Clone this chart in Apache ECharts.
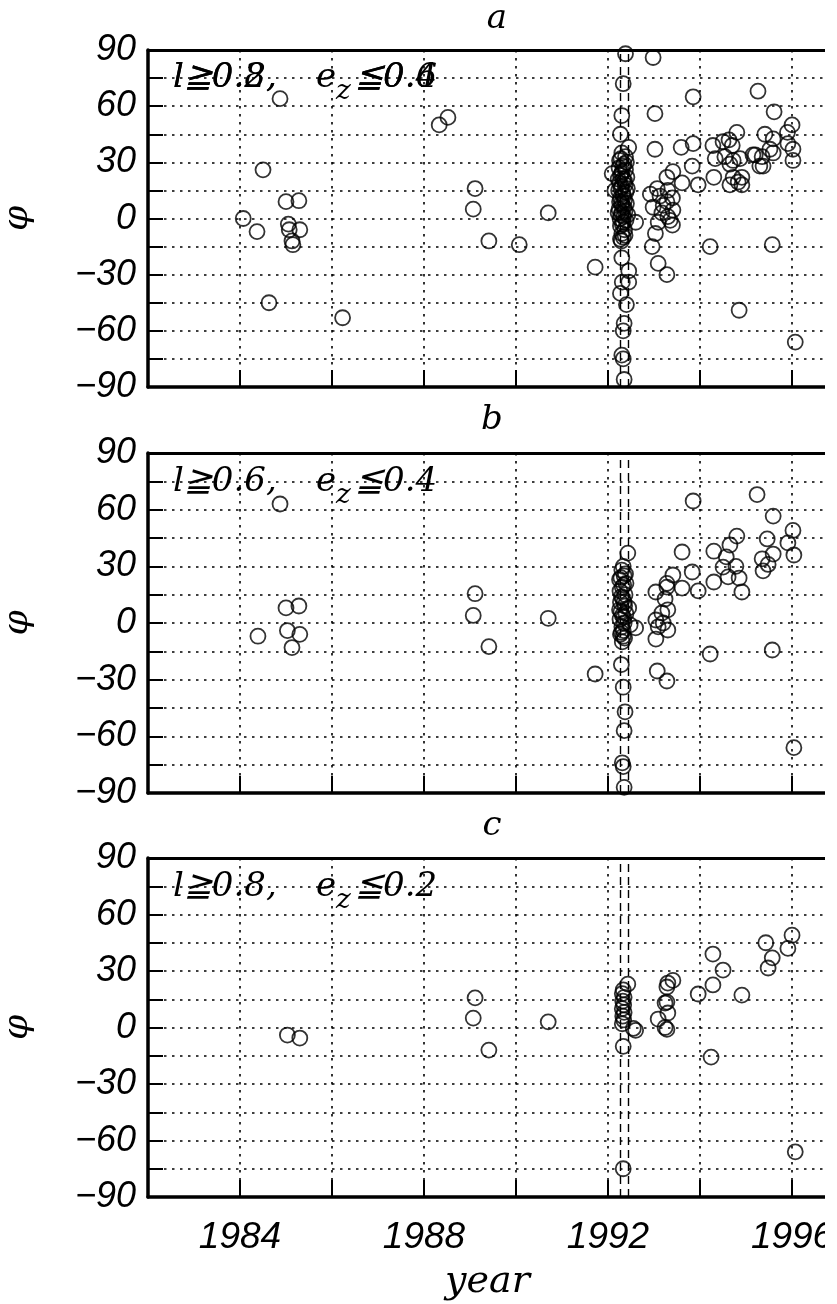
<!DOCTYPE html>
<html lang="en">
<head>
<meta charset="UTF-8">
<title>phi vs year</title>
<script src="https://cdn.jsdelivr.net/npm/echarts@6/dist/echarts.min.js"></script>
<style>
  * { margin: 0; padding: 0; }
  body { background: #fff; }
  #chart { width: 837px; height: 1304px; }
</style>
</head>
<body>
<div id="chart"></div>
<script>
// ---- data ----
var yearLabels = [1984, 1988, 1992, 1996];
var phiLabels = [90, 60, 30, 0, -30, -60, -90];
var dashedYears = [1992.26, 1992.44];
var panelNames = ['a', 'b', 'c'];

var panelA = [
  [1984.07, 0], [1984.37, -7], [1984.5, 26], [1984.63, -45], [1984.87, 64], [1985.0, 9], [1985.28, 9.5],
  [1985.05, -3], [1985.07, -6], [1985.3, -6], [1985.13, -12], [1985.15, -14], [1986.23, -53],
  [1988.33, 50], [1988.52, 54], [1989.11, 16], [1989.07, 5], [1989.41, -12], [1990.07, -14], [1990.7, 3], [1991.72, -26],
  [1992.38, 88], [1992.33, 72], [1992.3, 55], [1992.27, 45], [1992.45, 38], [1992.09, 24], [1992.15, 15], [1992.6, -2],
  [1992.27, -11], [1992.3, -21], [1992.45, -28], [1992.45, -34], [1992.31, -34], [1992.27, -40], [1992.4, -46],
  [1992.35, -56], [1992.33, -60], [1992.3, -73], [1992.33, -75], [1992.35, -86],
  [1992.3, 35], [1992.38, 33], [1992.25, 31], [1992.4, 30], [1992.32, 28], [1992.24, 27], [1992.38, 26], [1992.31, 25],
  [1992.27, 23], [1992.41, 22], [1992.33, 21], [1992.25, 19], [1992.37, 18], [1992.3, 17], [1992.23, 15], [1992.39, 14],
  [1992.32, 13], [1992.27, 11], [1992.36, 10], [1992.25, 9], [1992.4, 8], [1992.31, 7], [1992.24, 5], [1992.37, 4],
  [1992.3, 3], [1992.34, 1], [1992.26, 0], [1992.39, -1], [1992.31, -3], [1992.27, -4], [1992.36, -6], [1992.3, -8],
  [1992.33, -10], [1992.29, -12],
  [1992.28, 32], [1992.35, 29], [1992.29, 24], [1992.36, 20], [1992.28, 16], [1992.34, 12], [1992.29, 8], [1992.35, 6],
  [1992.28, 2], [1992.33, -2], [1992.37, -9], [1992.42, 16], [1992.43, 2], [1992.22, 21], [1992.22, 3],
  [1992.98, 86], [1993.02, 56], [1993.02, 37], [1993.59, 38], [1993.85, 65], [1993.85, 40], [1993.83, 28], [1993.96, 18],
  [1993.61, 19], [1993.41, 25], [1993.28, 22], [1993.07, 16], [1993.3, 15], [1993.4, 11], [1992.98, 6], [1993.17, 3],
  [1993.3, 1], [1993.09, -2], [1993.4, -3.5], [1993.03, -8], [1993.28, 9], [1993.13, 12], [1993.41, 4.5], [1992.92, 13],
  [1993.2, 7], [1993.35, -1], [1992.96, -15], [1993.09, -24], [1993.28, -30],
  [1994.22, -15], [1994.85, -49], [1995.57, -14], [1996.07, -66], [1995.26, 68], [1995.61, 57], [1994.8, 46], [1996.0, 50],
  [1995.9, 46], [1995.41, 45], [1995.59, 42.5], [1994.28, 39], [1994.5, 41], [1994.63, 42], [1994.7, 39], [1995.91, 40],
  [1996.02, 37], [1994.33, 32], [1994.54, 33], [1994.72, 31], [1994.87, 32], [1995.2, 34], [1995.35, 33], [1995.52, 37],
  [1995.3, 28], [1996.02, 31], [1994.3, 22], [1994.65, 29], [1994.72, 22], [1994.65, 18], [1994.83, 19.5], [1994.91, 18],
  [1994.91, 22], [1995.59, 35], [1995.15, 34], [1995.37, 28]
];

var panelB = [
  [1984.39, -7], [1984.87, 63], [1985.0, 8], [1985.28, 9], [1985.03, -4], [1985.3, -6], [1985.13, -13],
  [1989.11, 15.5], [1989.07, 4], [1989.41, -12.5], [1990.7, 2.5], [1991.72, -27],
  [1992.43, 37], [1992.33, 30], [1992.35, 25], [1992.6, -2.6], [1992.29, -22], [1992.33, -34], [1992.37, -47],
  [1992.35, -57], [1992.31, -74], [1992.33, -76], [1992.35, -87],
  [1992.3, 28], [1992.38, 26], [1992.25, 23], [1992.39, 21], [1992.31, 19], [1992.26, 17], [1992.37, 15], [1992.32, 13],
  [1992.27, 11], [1992.36, 9], [1992.25, 7], [1992.39, 5], [1992.31, 4], [1992.26, 2], [1992.35, 0], [1992.3, -2],
  [1992.33, -4], [1992.27, -6], [1992.36, -8], [1992.31, -10], [1992.45, 8], [1992.48, -1],
  [1992.28, 24], [1992.34, 20], [1992.29, 14], [1992.35, 11], [1992.28, 6], [1992.34, 3], [1992.29, -5], [1992.33, -7],
  [1993.85, 64.6], [1993.61, 37.6], [1993.83, 27], [1993.41, 25.4], [1993.28, 21], [1993.61, 18.5], [1993.96, 17],
  [1993.07, -25.4], [1993.28, -30.7], [1993.04, -8.5], [1993.04, 16.4], [1993.24, 12.7], [1993.3, 7], [1993.04, 1.6],
  [1993.09, -2], [1993.3, -3.7], [1993.2, 0], [1993.28, 19], [1993.17, 5.3],
  [1995.24, 68], [1995.59, 56.6], [1996.02, 49], [1994.8, 46], [1994.3, 38], [1994.3, 21.7], [1994.5, 29.6], [1994.61, 24.4],
  [1994.65, 41.3], [1994.57, 35], [1994.78, 30], [1994.85, 23.8], [1994.91, 16.4], [1995.46, 44.5], [1995.59, 36.5],
  [1995.35, 34], [1995.48, 31], [1995.37, 27.6], [1995.91, 42.4], [1996.04, 36], [1994.22, -16.4], [1995.57, -14.3],
  [1996.04, -66]
];

var panelC = [
  [1985.03, -4], [1985.3, -5.6], [1989.11, 15.7], [1989.07, 5], [1989.41, -12], [1990.7, 3],
  [1996.0, 49], [1995.43, 45], [1995.91, 42], [1995.57, 37], [1995.48, 31.6], [1994.28, 39], [1994.5, 30.5],
  [1994.28, 22.6], [1993.96, 17.8], [1994.91, 17.2], [1994.24, -15.7], [1996.07, -66], [1992.33, -75], [1992.33, -10],
  [1992.43, 23],
  [1992.33, 20], [1992.31, 18], [1992.35, 16], [1992.32, 14], [1992.34, 12], [1992.31, 10], [1992.35, 8], [1992.32, 6],
  [1992.34, 4], [1992.31, 2], [1992.6, -1.5], [1992.55, -0.5],
  [1993.41, 25], [1993.3, 23.6], [1993.28, 21.5], [1993.24, 13], [1993.28, 13.5], [1993.3, 7.7], [1993.09, 4.5],
  [1993.24, 0], [1993.28, -1]
];

var panels = [panelA, panelB, panelC];

// ---- layout ----
var grids = [
  { left: 148, right: 10, top: 50, height: 337, outerBoundsMode: 'none' },
  { left: 148, right: 10, top: 453, height: 340, outerBoundsMode: 'none' },
  { left: 148, right: 10, top: 858, height: 339, outerBoundsMode: 'none' }
];
var xMin = 1982, xMax = 1996.76;
var dotted = { type: [2.5, 5.5], color: '#000', width: 1.6 };
var serifIt = 'italic 34px "DejaVu Serif"';

var xAxes = [], yAxes = [], series = [];
for (var i = 0; i < 3; i++) {
  var last = (i === 2);
  xAxes.push({
    gridIndex: i, type: 'value', min: xMin, max: xMax, interval: 2,
    axisLine: { show: true, onZero: false, lineStyle: { color: '#000', width: 3.5 } },
    axisTick: { show: true, inside: true, length: 17, lineStyle: { color: '#000', width: 2 } },
    axisLabel: {
      show: last, margin: 22, color: '#000', fontSize: 37, fontStyle: 'italic', fontFamily: 'Liberation Sans',
      formatter: function (v) { return yearLabels.indexOf(v) >= 0 ? String(v) : ''; }
    },
    splitLine: { show: true, lineStyle: dotted },
    name: last ? 'year' : '', nameLocation: 'middle', nameGap: 66,
    nameTextStyle: { color: '#000', fontSize: 38, fontStyle: 'italic', fontFamily: 'DejaVu Serif' }
  });
  yAxes.push({
    gridIndex: i, type: 'value', min: -90, max: 90, interval: 15,
    axisLine: { show: true, onZero: false, lineStyle: { color: '#000', width: 3.5 } },
    axisTick: { show: true, inside: true, length: 15, lineStyle: { color: '#000', width: 2 } },
    axisLabel: {
      margin: 12, color: '#000', fontSize: 36, fontStyle: 'italic', fontFamily: 'Liberation Sans',
      formatter: function (v) {
        if (phiLabels.indexOf(v) < 0) return '';
        return v < 0 ? '\u2212' + Math.abs(v) : String(v);
      }
    },
    splitLine: { show: true, lineStyle: dotted },
    name: 'φ', nameLocation: 'middle', nameGap: 112, nameRotate: 90,
    nameTextStyle: { color: '#000', fontSize: 36, fontStyle: 'italic', fontFamily: 'DejaVu Serif' }
  });
  series.push({
    type: 'scatter', xAxisIndex: i, yAxisIndex: i, data: panels[i],
    symbol: 'circle', symbolSize: 15, silent: true,
    itemStyle: { color: 'rgba(0,0,0,0)', borderColor: '#000', borderWidth: 1.8 },
    markLine: {
      silent: true, symbol: 'none', label: { show: false },
      lineStyle: { type: [8, 5], color: '#000', width: 1.4 },
      data: dashedYears.map(function (d) { return { xAxis: d }; })
    }
  });
}
// top border of each panel
for (var j = 0; j < 3; j++) {
  xAxes.push({
    gridIndex: j, type: 'value', position: 'top', min: xMin, max: xMax,
    axisLine: { show: true, onZero: false, lineStyle: { color: '#000', width: 3 } },
    axisTick: { show: false }, axisLabel: { show: false }, splitLine: { show: false }
  });
}

// panel letters and the condition texts
var graphic = [];
var letterPos = [[497, 19], [492, 420], [492, 826]];
letterPos.forEach(function (p, k) {
  graphic.push({ type: 'text', x: p[0], y: p[1], style: { text: panelNames[k], font: serifIt, fill: '#000', textAlign: 'center', textVerticalAlign: 'middle' } });
});
var condRows = [
  { y: 78, l: ['l≧0.8,', 'l≧0.2,'], e: ['≦0.6', '≦0.4'] },
  { y: 482, l: ['l≧0.6,'], e: ['≦0.4'] },
  { y: 887, l: ['l≧0.8,'], e: ['≦0.2'] }
];
condRows.forEach(function (r) {
  r.l.forEach(function (t) {
    graphic.push({ type: 'text', x: 173, y: r.y, style: { text: t, font: serifIt, fill: '#000', textVerticalAlign: 'middle' } });
  });
  graphic.push({ type: 'text', x: 316, y: r.y, style: { text: 'e', font: serifIt, fill: '#000', textVerticalAlign: 'middle' } });
  graphic.push({ type: 'text', x: 336, y: r.y + 14, style: { text: 'z', font: 'italic 28px "DejaVu Serif"', fill: '#000', textVerticalAlign: 'middle' } });
  r.e.forEach(function (t) {
    graphic.push({ type: 'text', x: 355, y: r.y, style: { text: t, font: serifIt, fill: '#000', textVerticalAlign: 'middle' } });
  });
});
// the original figure is cut off at the right
graphic.push({ type: 'rect', z: 100, shape: { x: 825, y: 0, width: 12, height: 1304 }, style: { fill: '#fff' } });

var myChart = echarts.init(document.getElementById('chart'));
myChart.setOption({
  animation: false,
  backgroundColor: '#fff',
  grid: grids,
  xAxis: xAxes,
  yAxis: yAxes,
  series: series,
  graphic: graphic
});
</script>
</body>
</html>
